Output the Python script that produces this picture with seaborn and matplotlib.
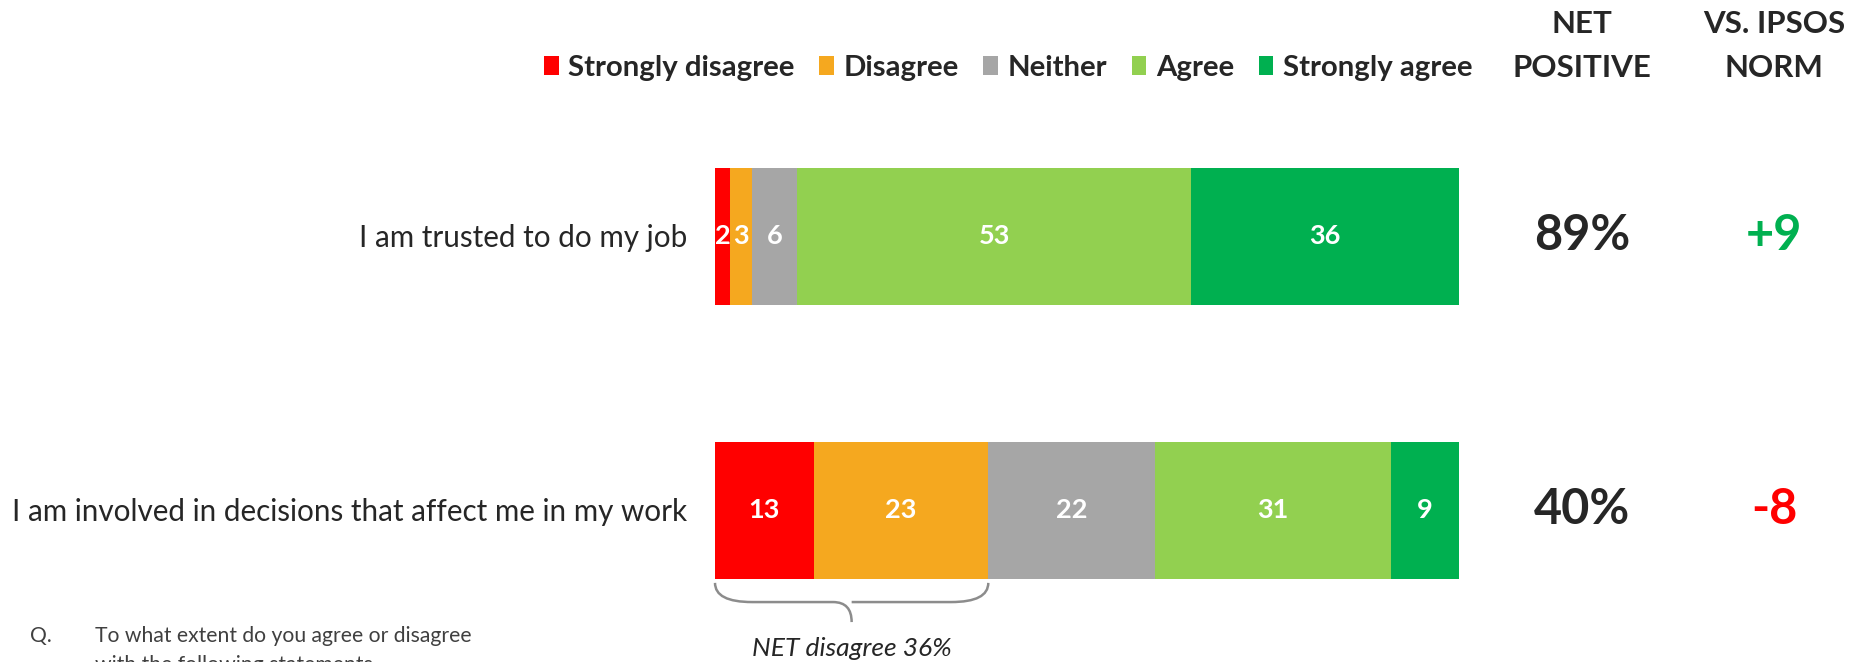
import pandas as pd
import matplotlib.pyplot as plt
import matplotlib.transforms as mtransforms
import seaborn as sns
from matplotlib.path import Path
from matplotlib.patches import PathPatch, Patch

statements = ["I am trusted to do my job",
              "I am involved in decisions that affect me in my work"]
responses = ["Strongly disagree", "Disagree", "Neither", "Agree", "Strongly agree"]
strongly_disagree = [2, 13]
disagree = [3, 23]
neither = [6, 22]
agree = [53, 31]
strongly_agree = [36, 9]
net_positive = ["89%", "40%"]
vs_norm = ["+9", "-8"]
net_disagree_label = "NET disagree 36%"

colors = ["#FF0000", "#F5A81F", "#A6A6A6", "#92D050", "#00B050"]
norm_colors = ["#00B050", "#FF0000"]
dark = "#262626"

sns.set_theme(style="white")
plt.rcParams["font.family"] = ["Lato", "DejaVu Sans"]

df = pd.DataFrame({"statement": statements,
                   "Strongly disagree": strongly_disagree,
                   "Disagree": disagree,
                   "Neither": neither,
                   "Agree": agree,
                   "Strongly agree": strongly_agree})
vals = df[responses]
# each bar is shown as a 100% stack
shares = vals.div(vals.sum(axis=1), axis=0) * 100
cum = shares.cumsum(axis=1)

W, H = 1864, 662
fig = plt.figure(figsize=(W / 100, H / 100), dpi=100)
ax = fig.add_axes([715 / W, 1 - 647 / H, 744 / W, 548 / H])

# draw cumulative bars from the longest down, so each segment shows
for resp, col in reversed(list(zip(responses, colors))):
    sns.barplot(x=cum[resp], y=df["statement"], color=col, orient="h",
                width=0.5, saturation=1, errorbar=None, linewidth=0, ax=ax)

# segment labels
for i in range(len(df)):
    for resp in responses:
        mid = cum.loc[i, resp] - shares.loc[i, resp] / 2
        ax.text(mid, i, str(vals.loc[i, resp]), ha="center", va="center",
                color="white", fontsize=19.5, fontweight="bold")

ax.set_xlim(0, 100)
ax.set_ylim(1.5, -0.5)
ax.set_xlabel("")
ax.set_ylabel("")
ax.set_xticks([])
ax.tick_params(axis="y", length=0, pad=20, labelsize=21.3, labelcolor=dark)
sns.despine(ax=ax, left=True, bottom=True)

# legend
handles = [Patch(facecolor=c, edgecolor="none") for c in colors]
fig.legend(handles, responses, loc="center", bbox_to_anchor=(1008 / W, 1 - 68 / H),
           ncol=5, frameon=False, handlelength=0.5, handleheight=0.6,
           handletextpad=0.32, columnspacing=0.84,
           prop={"weight": "bold", "size": 21.2}, labelcolor=dark)

# right hand columns
trans = mtransforms.blended_transform_factory(fig.transFigure, ax.transData)
for x, lines in [(1582, ["NET", "POSITIVE"]), (1774, ["VS. IPSOS", "NORM"])]:
    for y, line in zip([24, 68], lines):
        fig.text(x / W, 1 - y / H, line, ha="center", va="center",
                 fontsize=22.5, fontweight="bold", color=dark)
for i in range(len(df)):
    ax.text(1582 / W, i, net_positive[i], transform=trans, ha="center",
            va="center", fontsize=35, fontweight="bold", color=dark)
    ax.text(1774 / W, i, vs_norm[i], transform=trans, ha="center",
            va="center", fontsize=35, fontweight="bold", color=norm_colors[i])

# brace under the disagree part of the second bar
x1 = cum.loc[1, "Disagree"]
xm = x1 / 2
y0, y1, y2 = 1.266, 1.336, 1.409
r = 5
verts = [(0, y0), (0, y1), (r, y1), (xm - 2.5, y1), (xm, y1), (xm, y2),
         (xm, y1), (xm + 2.5, y1), (x1 - r, y1), (x1, y1), (x1, y0)]
codes = [Path.MOVETO, Path.CURVE3, Path.CURVE3, Path.LINETO, Path.CURVE3, Path.CURVE3,
         Path.MOVETO, Path.CURVE3, Path.LINETO, Path.CURVE3, Path.CURVE3]
ax.add_patch(PathPatch(Path(verts, codes), facecolor="none", edgecolor="#8C8C8C",
                       linewidth=1.8, clip_on=False))
ax.text(xm, 1.505, net_disagree_label, ha="center", va="center",
        fontsize=19, fontstyle="italic", color=dark)

# question footnote (second line runs off the bottom edge, as in the source)
fig.text(30 / W, 1 - 636 / H, "Q.", ha="left", va="center", fontsize=15.2, color="#404040")
fig.text(95 / W, 1 - 636 / H, "To what extent do you agree or disagree",
         ha="left", va="center", fontsize=15.2, color="#404040")
fig.text(95 / W, 1 - 665 / H, "with the following statements",
         ha="left", va="center", fontsize=15.2, color="#404040")

fig.savefig("out.png", dpi=100)
